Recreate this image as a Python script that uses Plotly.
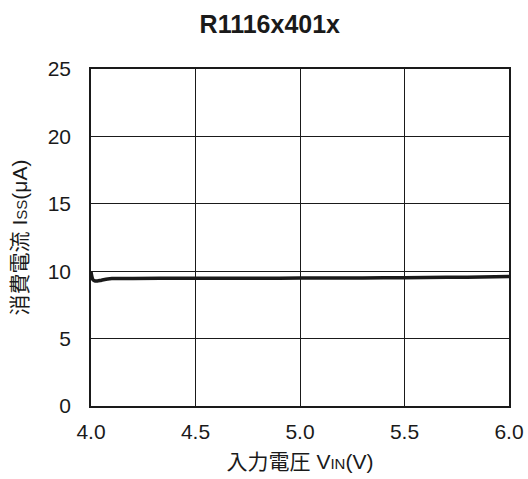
import plotly.graph_objects as go

vin = [4.00, 4.005, 4.01, 4.02, 4.03, 4.05, 4.08, 4.10, 4.2, 4.4, 4.6, 4.8, 5.0, 5.2, 5.4, 5.6, 5.8, 6.0]
iss = [9.95, 9.55, 9.35, 9.27, 9.27, 9.33, 9.42, 9.45, 9.46, 9.47, 9.47, 9.48, 9.49, 9.5, 9.51, 9.53, 9.56, 9.6]

x_ticks = [4.0, 4.5, 5.0, 5.5, 6.0]
y_ticks = [0, 5, 10, 15, 20, 25]

fig = go.Figure()
fig.add_trace(go.Scatter(x=vin, y=iss, mode="lines",
                         line=dict(color="#1a1a1a", width=3.5, shape="spline"),
                         showlegend=False, cliponaxis=True))

font = "Liberation Sans, Arial, Noto Sans CJK JP, sans-serif"
fig.update_layout(
    width=528, height=479,
    margin=dict(l=91, r=19, t=69, b=73, autoexpand=False),
    paper_bgcolor="white", plot_bgcolor="white",
    font=dict(family=font, color="#1a1a1a", size=18),
    title=dict(text="<b>R1116x401x</b>", x=0.511, xanchor="center", y=0.95, yanchor="middle",
               font=dict(size=25, family=font, color="#1a1a1a")),
    xaxis=dict(range=[4.0, 6.0], tickvals=x_ticks, ticktext=[f"{v:.1f}" for v in x_ticks],
               showgrid=True, gridcolor="#1a1a1a", gridwidth=1.3,
               showline=True, linecolor="#1a1a1a", linewidth=1.5, mirror=True,
               ticks="", zeroline=False, tickfont=dict(size=21), ticklabelstandoff=6,
               automargin=False,
               title=dict(text="入力電圧 V<span style='font-size:15px'>IN</span>(V)",
                          font=dict(size=21), standoff=12)),
    yaxis=dict(range=[0, 25], tickvals=y_ticks,
               showgrid=True, gridcolor="#1a1a1a", gridwidth=1.3,
               showline=True, linecolor="#1a1a1a", linewidth=1.5, mirror=True,
               ticks="", zeroline=False, tickfont=dict(size=21), ticklabelstandoff=14,
               automargin=False,
               title=dict(text="消費電流 I<span style='font-size:15px'>SS</span>(μA)",
                          font=dict(size=21), standoff=14)),
)

fig.write_html("out.html", config={"displayModeBar": False},
               post_script="document.body.style.margin='0';document.body.style.padding='0';")
